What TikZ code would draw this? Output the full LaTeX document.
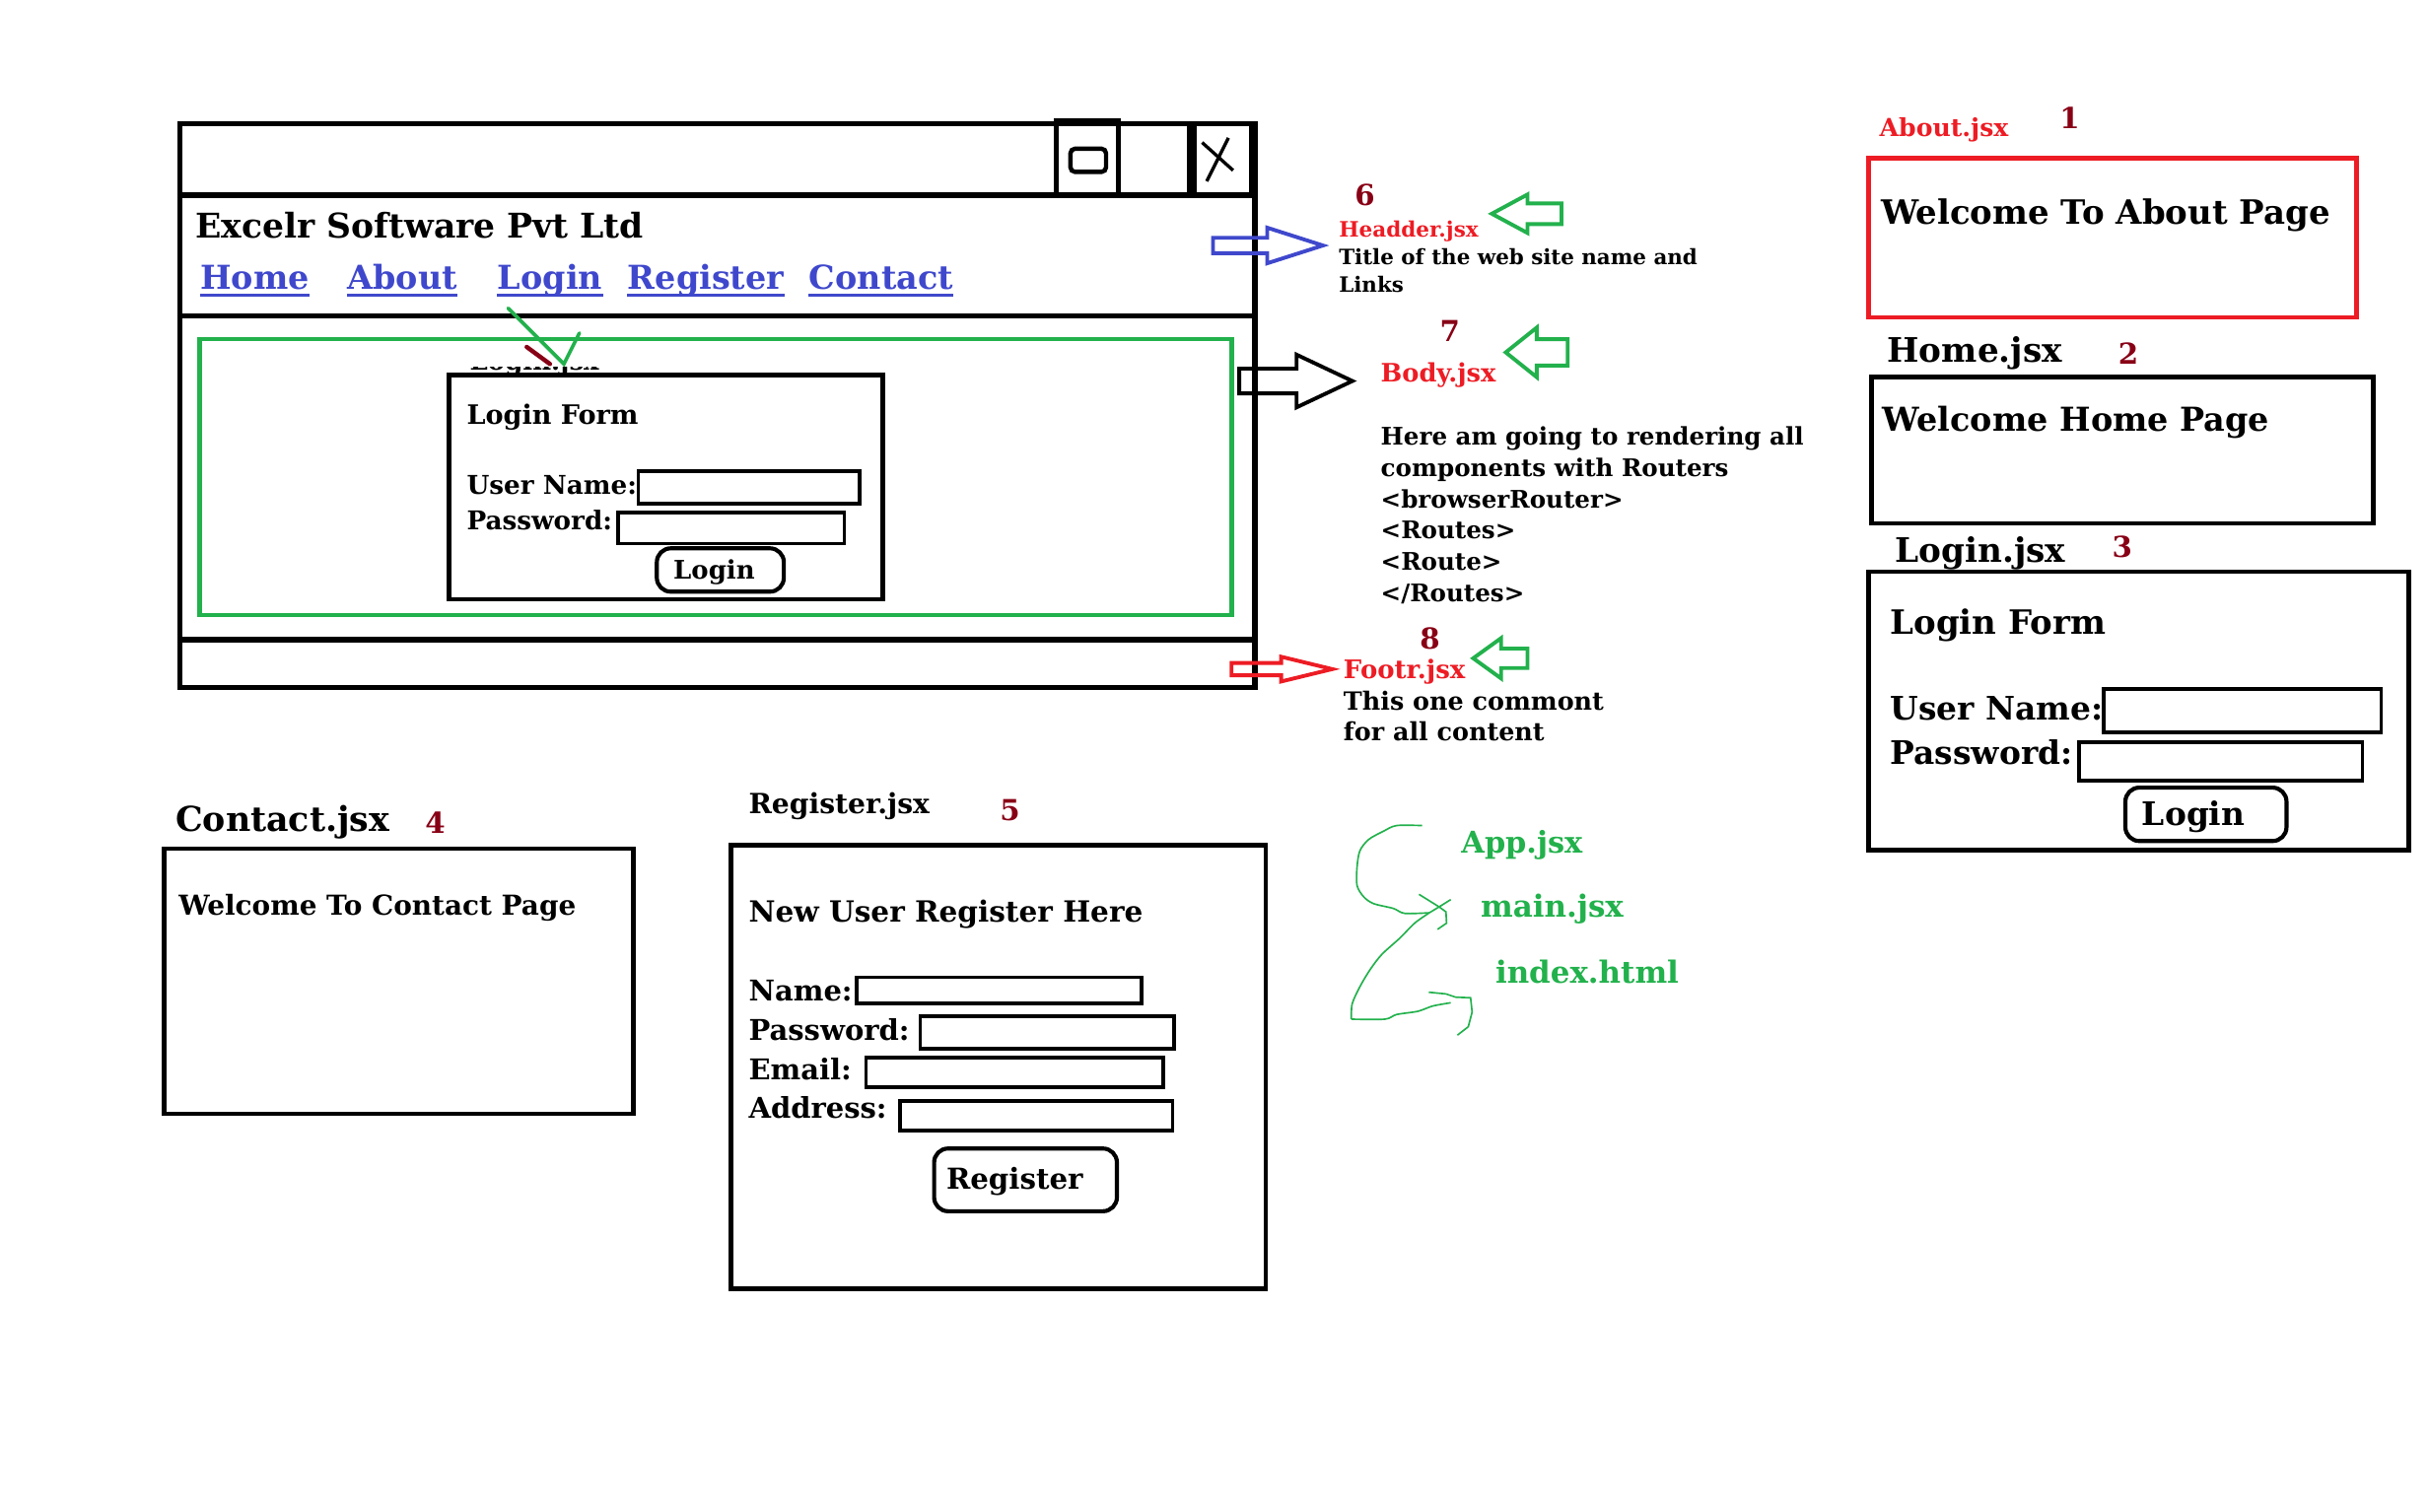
\documentclass[tikz,border=0pt]{standalone}
\usepackage{fontspec}
\setmainfont{DejaVu Serif}
\usepackage{xcolor}
\definecolor{linkblue}{HTML}{3F48CC}
\definecolor{pagered}{HTML}{ED1C24}
\definecolor{mockgreen}{HTML}{22B14C}
\definecolor{numred}{HTML}{880015}
\newcommand{\fsz}[1]{\fontsize{#1}{#1}\selectfont}
% block arrow: style, tail x, head base x, tip x, y, shaft half, head half
\newcommand{\blockarrow}[7]{\draw[#1] (#2,{#5-#6}) -- (#3,{#5-#6}) -- (#3,{#5-#7}) -- (#4,#5) -- (#3,{#5+#7}) -- (#3,{#5+#6}) -- (#2,{#5+#6}) -- cycle;}
\tikzset{
  frame/.style={draw, line width=2pt},
  box/.style={draw, line width=1.7pt},
  field/.style={draw, line width=1.3pt},
  btn/.style={draw, line width=1.5pt, rounded corners=1.8mm},
  lbl/.style={inner sep=0pt, anchor=base west, font=\bfseries\fsz{#1}},
  lbl/.default=10,
  btxt/.style={inner sep=0pt, anchor=base, font=\bfseries\fsz{#1}},
  num/.style={inner sep=0pt, text=numred, font=\bfseries\fsz{10.6}},
  harrow/.style={line width=1.4pt, line join=miter},
  hand/.style={mockgreen, line width=0.6pt}
}

\begin{document}
\begin{tikzpicture}[x=0.2mm, y=-0.2mm]
\useasboundingbox (0,0) rectangle (1568,976);
% browser window
\draw[frame] (116,80) rectangle (810,444);
\draw[frame] (116,126) -- (810,126) (116,204) -- (810,204) (116,413) -- (810,413);
\draw[frame] (682,78) rectangle (722,126) (722,80) rectangle (768,126) (771,80) rectangle (808,126);
\draw[line width=1.6pt, rounded corners=0.6mm] (691,96) rectangle (714,111);
\draw[line width=1.2pt] (776,92) -- (796,110) (793,89) -- (779,117);
\node[lbl=12.5] (title) at (126,154) {Excelr Software Pvt Ltd};
\foreach \t/\x [count=\i] in {Home/129,About/224,Login/321,Register/405,Contact/522} {
  \node[lbl=12.1, text=linkblue] (lk\i) at (\x,187) {\t};
  \draw[linkblue, line width=1.1pt] ([yshift=-0.7mm]lk\i.base west) -- ([yshift=-0.7mm]lk\i.base east);
}
\draw[mockgreen, line width=1.7pt] (129,219) rectangle (795,397);
\begin{scope}
  \clip (295,237) rectangle (400,240);
  \node[lbl=9.4] (hidden) at (303,239) {Login.jsx};
\end{scope}
\draw[box] (290,242) rectangle (570,387);
\node[lbl=9.8] (wform) at (301,274) {Login Form};
\node[lbl=9.5] (wuser) at (301,319) {User Name:};
\node[lbl=9.5] (wpass) at (301,342) {Password:};
\draw[field] (412,304) rectangle (555,325);
\draw[field] (399,331) rectangle (545,351);
\draw[btn] (424,354) rectangle (506,382);
\node[btxt=9.4] (wlogin) at (461,374) {Login};
\draw[mockgreen, line width=1.3pt, line cap=round] (328,199) -- (364,235) -- (374,215);
\draw[numred, line width=1.6pt, line cap=round] (340,224) -- (355,235);

% pointers to the parts
\blockarrow{harrow, linkblue}{783}{818}{854}{158.5}{5}{11.5}
\blockarrow{harrow, black}{800}{837}{873}{246}{8}{17}
\blockarrow{harrow, pagered}{795}{827}{860}{432}{4}{8}
\blockarrow{harrow, mockgreen}{1008}{986}{963}{138}{6.7}{12.4}
\blockarrow{harrow, mockgreen}{1012}{992}{972}{227.5}{8.5}{16}
\blockarrow{harrow, mockgreen}{986}{969}{951}{425}{6.3}{13}

\node[num] (n6) at (881,126) {6};
\node[lbl=7.8, text=pagered] (header) at (864,153) {Headder.jsx};
\node[lbl=7.75] (hd1) at (864,171) {Title of the web site name and};
\node[lbl=7.75] (hd2) at (864,188.5) {Links};
\node[num] (n7) at (936,214) {7};
\node[lbl=9.3, text=pagered] (body) at (891,246.5) {Body.jsx};
\foreach \t [count=\i from 0] in {Here am going to rendering all, components with Routers, <browserRouter>, <Routes>, <Route>, </Routes>}
  \node[lbl=8.9] (bd\i) at (891,{287.4+20.2*\i}) {\t};
\node[num] (n8) at (923,412) {8};
\node[lbl=9.4, text=pagered] (footer) at (867,438) {Footr.jsx};
\node[lbl=9.2] (ft1) at (867,458.5) {This one commont};
\node[lbl=9.2] (ft2) at (867,478.5) {for all content};

% pages
\node[lbl=9.1, text=pagered] (about) at (1213,88) {About.jsx};
\node[num] (n1) at (1336,76) {1};
\draw[pagered, line width=1.7pt] (1206,102) rectangle (1521,205);
\node[lbl=12.3] (aboutw) at (1214,144.5) {Welcome To About Page};
\node[lbl=12.4] (home) at (1218,234) {Home.jsx};
\node[num] (n2) at (1374,228) {2};
\draw[box] (1208,243.5) rectangle (1532,338);
\node[lbl=12.1] (homew) at (1215,278.5) {Welcome Home Page};
\node[lbl=12.4] (login) at (1223,363) {Login.jsx};
\node[num] (n3) at (1370,353) {3};
\draw[box] (1206,369) rectangle (1555,549);
\node[lbl=12.3] (lform) at (1220,409.5) {Login Form};
\node[lbl=11.9] (luser) at (1220,465) {User Name:};
\node[lbl=11.9] (lpass) at (1220,493.5) {Password:};
\draw[field] (1358,445) rectangle (1537,473);
\draw[field] (1342,479) rectangle (1525,504);
\draw[btn] (1372,508.5) rectangle (1476,543);
\node[btxt=11.9] (llogin) at (1416,533) {Login};

\node[lbl=12.6] (contact) at (113,537) {Contact.jsx};
\node[num] (n4) at (281,531) {4};
\draw[box] (106,548) rectangle (409,719);
\node[lbl=10.1] (contactw) at (115,591) {Welcome To Contact Page};
\node[lbl=10.2] (register) at (483,525.5) {Register.jsx};
\node[num] (n5) at (652,523) {5};
\draw[box] (472,545.5) rectangle (817,832);
\node[lbl=10.7] (regw) at (483,595) {New User Register Here};
\node[lbl=10.5] (rname) at (483,646.5) {Name:};
\node[lbl=10.5] (rpass) at (483,671.5) {Password:};
\node[lbl=10.5] (rmail) at (483,697) {Email:};
\node[lbl=10.5] (raddr) at (483,722) {Address:};
\draw[field] (553,631) rectangle (737,648);
\draw[field] (594,656) rectangle (758,677);
\draw[field] (559,683) rectangle (751,702);
\draw[field] (581,711) rectangle (757,730);
\draw[btn] (603,741.5) rectangle (721,782);
\node[btxt=10.6] (rbtn) at (655,768) {Register};

% entry files
\node[lbl=11, text=mockgreen] (app) at (943,550.5) {App.jsx};
\node[lbl=11.2, text=mockgreen] (main) at (955.5,592) {main.jsx};
\node[lbl=11.2, text=mockgreen] (index) at (965,634.5) {index.html};
\draw[hand] plot[smooth] coordinates {(918,533) (901.5,533) (893,536.7) (883.5,542) (877.8,549.4) (876,560) (876,571.7) (880.3,579) (886.7,583.4) (899.4,586.5) (906.8,589.7) (922.7,589.3)};
\draw[hand] (916,577.4) -- (929,585.5) -- (933.4,588.7) -- (933.8,596) -- (928,600);
\draw[hand] (936.5,580.8) -- (929,585.5) -- (922.7,589.3);
\draw[hand] plot[smooth] coordinates {(922.7,589.3) (913.2,596) (903.7,605.6) (892,616.2) (884.6,625.8) (878.2,636.4) (872.9,648) (872.3,658)};
\draw[hand] plot[smooth] coordinates {(872.3,658) (894,658) (901.5,655) (915.3,652.9) (924.9,649.5) (936.5,647.4)};
\draw[hand] (922.3,640.6) -- (933.4,641.7) -- (939.7,643.8) -- (949.3,644.2) -- (950.3,653.4) -- (947.8,662.9) -- (940.8,668.3);
\end{tikzpicture}
\end{document}
